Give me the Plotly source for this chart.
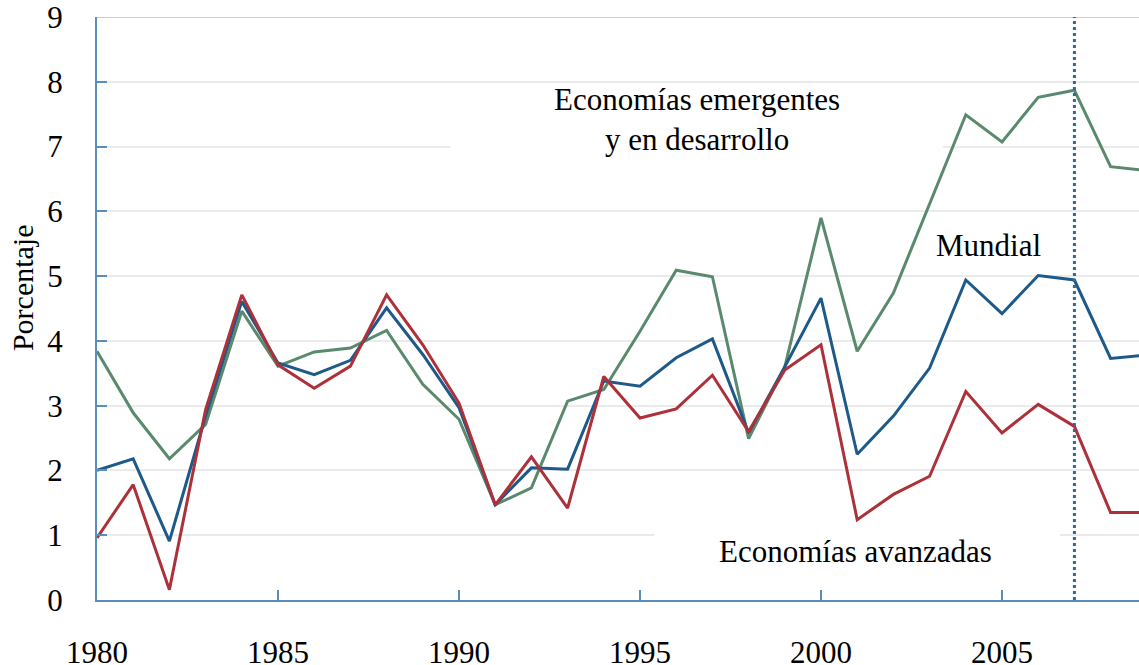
import plotly.graph_objects as go

years = list(range(1980, 2010))

mundial = [2.00, 2.18, 0.91, 2.84, 4.61, 3.66, 3.48, 3.70, 4.51, 3.79,
           2.97, 1.47, 2.04, 2.02, 3.38, 3.30, 3.74, 4.03, 2.58, 3.60,
           4.66, 2.25, 2.84, 3.58, 4.94, 4.42, 5.01, 4.94, 3.73, 3.78]

avanzadas = [0.96, 1.78, 0.16, 2.94, 4.71, 3.63, 3.27, 3.61, 4.71, 3.94,
             3.04, 1.47, 2.21, 1.42, 3.45, 2.81, 2.95, 3.47, 2.60, 3.55,
             3.94, 1.24, 1.63, 1.91, 3.22, 2.58, 3.02, 2.68, 1.35, 1.35]

emergentes = [3.84, 2.89, 2.18, 2.71, 4.46, 3.61, 3.83, 3.89, 4.16, 3.33,
              2.79, 1.47, 1.73, 3.07, 3.25, 4.15, 5.09, 4.99, 2.49, 3.60,
              5.90, 3.84, 4.74, 6.13, 7.49, 7.07, 7.76, 7.87, 6.69, 6.63]

x_ticks = [1980, 1985, 1990, 1995, 2000, 2005]
y_ticks = list(range(0, 10))
marker_year = 2007

BLUE = "#1d5a8a"
RED = "#ad3139"
GREEN = "#5a8a6d"
AXIS = "#5a8db8"
FONT = "Liberation Serif"
FS = 31

fig = go.Figure()
fig.add_trace(go.Scatter(x=years, y=emergentes, mode="lines",
                         line=dict(color=GREEN, width=3), name="Economías emergentes y en desarrollo"))
fig.add_trace(go.Scatter(x=years, y=mundial, mode="lines",
                         line=dict(color=BLUE, width=3), name="Mundial"))
fig.add_trace(go.Scatter(x=years, y=avanzadas, mode="lines",
                         line=dict(color=RED, width=3), name="Economías avanzadas"))

# white gaps in the grid behind labels
fig.add_shape(type="rect", xref="x", yref="y", x0=1989.75, x1=2003.37, y0=6.75, y1=7.25,
              fillcolor="white", line=dict(width=0), layer="between")
fig.add_shape(type="rect", xref="x", yref="y", x0=1995.4, x1=2006.6, y0=0.75, y1=1.25,
              fillcolor="white", line=dict(width=0), layer="between")

fig.add_vline(x=marker_year, line=dict(color="#2a6a9e", width=3, dash="dot"), layer="above")

fig.add_annotation(x=1996.57, y=7.42, xref="x", yref="y",
                   text="Economías emergentes<br>y en desarrollo", showarrow=False,
                   font=dict(family=FONT, size=FS, color="black"), align="center")
fig.add_annotation(x=2004.64, y=5.47, xref="x", yref="y", text="Mundial", showarrow=False,
                   font=dict(family=FONT, size=FS, color="black"))
fig.add_annotation(x=2000.94, y=0.75, xref="x", yref="y", text="Economías avanzadas",
                   showarrow=False, font=dict(family=FONT, size=FS, color="black"))
fig.add_annotation(x=-75 / 1042, y=0.535, xref="paper", yref="paper", text="Porcentaje",
                   textangle=-90, showarrow=False, xanchor="center", yanchor="middle",
                   font=dict(family=FONT, size=30, color="black"))

fig.update_layout(
    width=1139, height=665,
    margin=dict(l=97, r=0, t=17, b=65, autoexpand=False),
    paper_bgcolor="white", plot_bgcolor="white",
    showlegend=False,
    font=dict(family=FONT, size=FS, color="black"),
)
fig.update_xaxes(range=[1980, 1980 + 1042 / 36.2], tickvals=x_ticks,
                 ticks="inside", ticklen=10, tickwidth=2, tickcolor=AXIS,
                 showline=True, linecolor=AXIS, linewidth=2, showgrid=False,
                 zeroline=False, ticklabelstandoff=24, automargin=False,
                 ticklabeloverflow="allow",
                 tickfont=dict(family=FONT, size=FS, color="black"))
fig.update_yaxes(range=[0, 9], tickvals=y_ticks,
                 ticks="inside", ticklen=10, tickwidth=2, tickcolor=AXIS,
                 showline=True, linecolor=AXIS, linewidth=2,
                 showgrid=True, gridcolor="#ebebeb", gridwidth=1.5,
                 zeroline=False, ticklabelstandoff=26, automargin=False,
                 ticklabeloverflow="allow",
                 tickfont=dict(family=FONT, size=FS, color="black"))
fig.add_hline(y=9, line=dict(color="#cccccc", width=2), layer="below")

fig.write_html("out.html", config={"displayModeBar": False},
               post_script="document.body.style.margin='0';document.body.style.overflow='hidden';")
